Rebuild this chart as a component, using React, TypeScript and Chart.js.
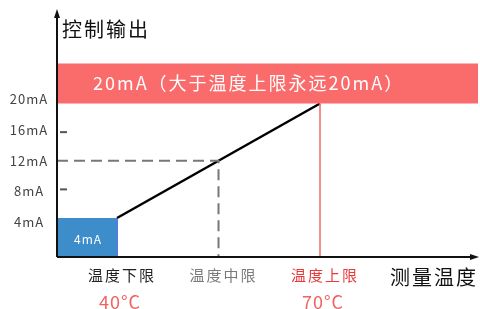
import React, { useEffect, useRef } from "react";
import { Chart, registerables } from "chart.js";

Chart.register(...registerables);

// Data (temperature °C on x, output mA on y)
const xMin = 31.13;
const xMax = 93.35;
const yMin = -1.45;
const yMax = 33.07;
const lowTemp = 40;
const midTemp = 55;
const highTemp = 70;
const lowOut = 4;
const midOut = 12;
const highOut = 20;
const bandTop = 25.6;
const yTickValues = [20, 16, 12, 8, 4];
const yTickLabels = ["20mA", "16mA", "12mA", "8mA", "4mA"];
const yTickMarks = [16, 8];
const xLabelValues = [lowTemp, midTemp, highTemp];
const xLabels = ["温度下限", "温度中限", "温度上限"];
const xLabelColors = ["#222222", "#7a7a7a", "#e8393b"];
const tempLabelValues = [lowTemp, highTemp];
const tempLabels = ["40°C", "70°C"];
const bandText = "20mA（大于温度上限永远20mA）";
const boxText = "4mA";
const yTitle = "控制输出";
const xTitle = "测量温度";

const FONT = '"Noto Sans CJK SC", "Noto Sans", sans-serif';

const overlay = {
  id: "overlay",
  afterDatasetsDraw(chart: any) {
    const ctx = chart.ctx;
    const xs = chart.scales.x;
    const ys = chart.scales.y;
    const area = chart.chartArea;
    const L = area.left;
    const B = area.bottom;
    ctx.save();

    // axes
    ctx.strokeStyle = "#111";
    ctx.fillStyle = "#111";
    ctx.lineWidth = 2;
    ctx.beginPath();
    ctx.moveTo(L, B);
    ctx.lineTo(L, area.top + 4);
    ctx.moveTo(L, B);
    ctx.lineTo(area.right - 4, B);
    ctx.stroke();
    ctx.beginPath();
    ctx.moveTo(L, area.top - 1);
    ctx.lineTo(L - 3, area.top + 8);
    ctx.lineTo(L + 3, area.top + 8);
    ctx.closePath();
    ctx.fill();
    ctx.beginPath();
    ctx.moveTo(area.right + 1, B);
    ctx.lineTo(area.right - 8, B - 3);
    ctx.lineTo(area.right - 8, B + 3);
    ctx.closePath();
    ctx.fill();

    // tick marks
    ctx.strokeStyle = "#555";
    ctx.lineWidth = 2;
    yTickMarks.forEach((v) => {
      const y = ys.getPixelForValue(v);
      ctx.beginPath();
      ctx.moveTo(L + 3, y);
      ctx.lineTo(L + 10, y);
      ctx.stroke();
    });

    // y tick labels
    ctx.fillStyle = "#444";
    ctx.font = `13px ${FONT}`;
    ctx.letterSpacing = "1px";
    ctx.textAlign = "center";
    ctx.textBaseline = "middle";
    yTickValues.forEach((v, i) => {
      ctx.fillText(yTickLabels[i], L - 28, ys.getPixelForValue(v) - (v - 12) * 0.5);
    });

    // y title
    ctx.fillStyle = "#111";
    ctx.font = `20px ${FONT}`;
    ctx.letterSpacing = "2px";
    ctx.textAlign = "left";
    ctx.fillText(yTitle, L + 5, 29);

    // band text
    ctx.fillStyle = "#ffffff";
    ctx.font = `18px ${FONT}`;
    ctx.letterSpacing = "2px";
    ctx.textAlign = "left";
    const bandMid = (ys.getPixelForValue(highOut) + ys.getPixelForValue(bandTop)) / 2;
    ctx.fillText(bandText, L + 36, bandMid);

    // box text
    ctx.font = `12px ${FONT}`;
    ctx.letterSpacing = "1px";
    ctx.textAlign = "center";
    ctx.fillText(
      boxText,
      (xs.getPixelForValue(xMin) + xs.getPixelForValue(lowTemp)) / 2 + 1,
      (ys.getPixelForValue(lowOut) + B) / 2 + 2
    );

    // x labels
    ctx.font = `15px ${FONT}`;
    ctx.letterSpacing = "2px";
    xLabelValues.forEach((v, i) => {
      ctx.fillStyle = xLabelColors[i];
      ctx.fillText(xLabels[i], xs.getPixelForValue(v) + 5, B + 18);
    });
    ctx.fillStyle = "#f06262";
    ctx.font = `18px ${FONT}`;
    ctx.letterSpacing = "1px";
    tempLabelValues.forEach((v, i) => {
      ctx.fillText(tempLabels[i], xs.getPixelForValue(v) + 3, B + 45);
    });

    // x title
    ctx.fillStyle = "#111";
    ctx.font = `20px ${FONT}`;
    ctx.letterSpacing = "2px";
    ctx.textAlign = "right";
    ctx.fillText(xTitle, area.right, B + 20);

    ctx.restore();
  },
};

export default function App() {
  const ref = useRef<HTMLCanvasElement>(null);
  useEffect(() => {
    if (!ref.current) return;
    const chart = new Chart(ref.current, {
      type: "line",
      data: {
        datasets: [
          {
            data: [
              { x: xMin, y: bandTop },
              { x: xMax, y: bandTop },
            ],
            borderWidth: 0,
            borderColor: "rgba(0,0,0,0)",
            backgroundColor: "#fa6b6b",
            fill: { value: highOut },
            pointRadius: 0,
          },
          {
            data: [
              { x: xMin, y: lowOut },
              { x: lowTemp, y: lowOut },
            ],
            borderWidth: 0,
            borderColor: "rgba(0,0,0,0)",
            backgroundColor: "#3d8dcb",
            fill: "start",
            pointRadius: 0,
          },
          {
            data: [
              { x: lowTemp, y: lowOut },
              { x: lowTemp, y: yMin },
            ],
            borderColor: "#3344ee",
            borderWidth: 1.5,
            pointRadius: 0,
          },
          {
            data: [
              { x: xMin, y: midOut },
              { x: midTemp, y: midOut },
              { x: midTemp, y: yMin },
            ],
            borderColor: "#777777",
            borderWidth: 2,
            borderDash: [11, 6],
            pointRadius: 0,
          },
          {
            data: [
              { x: highTemp, y: highOut },
              { x: highTemp, y: yMin },
            ],
            borderColor: "#f06a6a",
            borderWidth: 1.5,
            pointRadius: 0,
          },
          {
            data: [
              { x: lowTemp, y: lowOut },
              { x: highTemp, y: highOut },
            ],
            borderColor: "#000000",
            borderWidth: 2.5,
            pointRadius: 0,
          },
        ],
      },
      options: {
        animation: false,
        responsive: false,
        maintainAspectRatio: false,
        layout: { padding: { left: 57, right: 2, top: 10, bottom: 52 } },
        scales: {
          x: { type: "linear", min: xMin, max: xMax, display: false },
          y: { type: "linear", min: yMin, max: yMax, display: false },
        },
        plugins: {
          legend: { display: false },
          tooltip: { enabled: false },
        },
      },
      plugins: [overlay],
    });
    return () => chart.destroy();
  }, []);
  return (
    <div style={{ position: "fixed", left: 0, top: 0, width: 480, height: 309, background: "#fff" }}>
      <canvas ref={ref} width={480} height={309} style={{ width: 480, height: 309 }} />
    </div>
  );
}
